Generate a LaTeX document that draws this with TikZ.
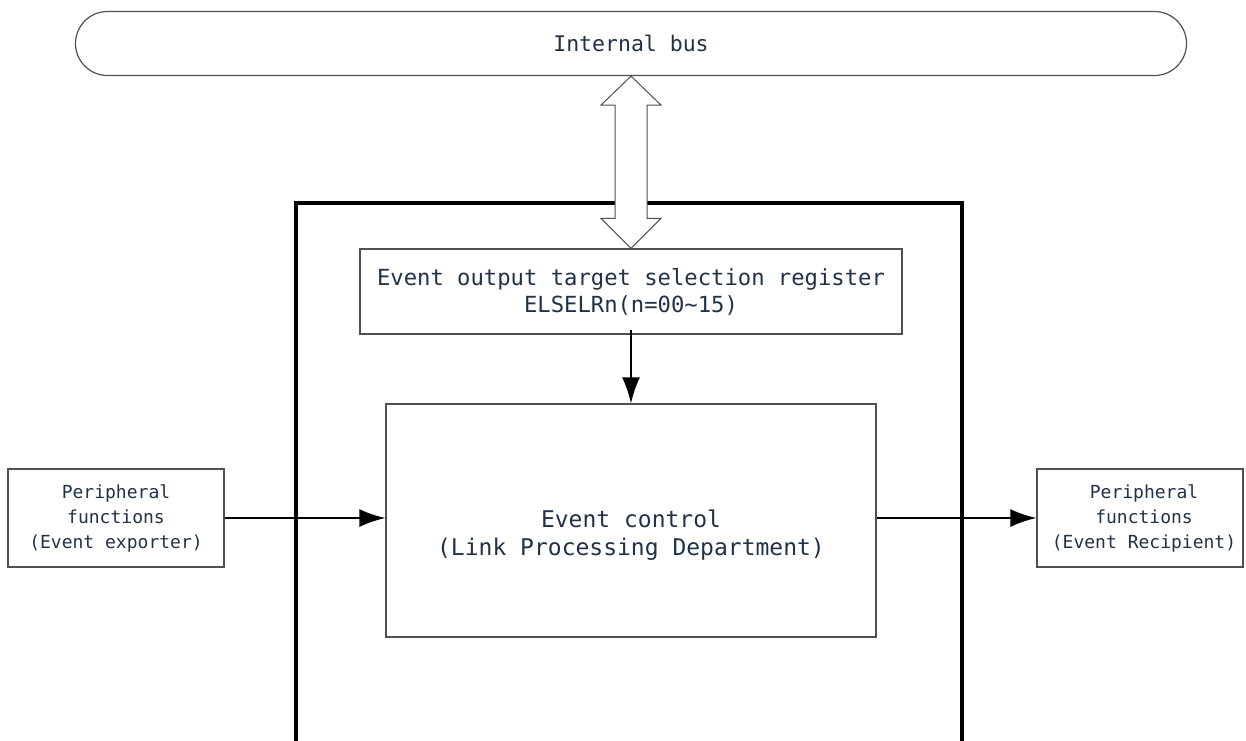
\documentclass[tikz,border=0pt]{standalone}
\usepackage{fontspec}
\setmainfont{DejaVu Sans Mono}
\usetikzlibrary{arrows.meta,calc}
\definecolor{txt}{RGB}{32,50,72}
\definecolor{edge}{RGB}{80,80,80}
\tikzset{
  box/.style={draw=edge,line width=1.2pt,rectangle,inner sep=0pt,text=txt,align=center},
  conn/.style={line width=2pt,-{Latex[length=26pt,width=18pt]}},
  wall/.style={line width=3.4pt,line cap=rect},
  txtnode/.style={text=txt,align=center,inner sep=0pt}
}
\begin{document}
\begin{tikzpicture}[x=1pt,y=-1pt]
\useasboundingbox (0,0) rectangle (1246,740);
% internal bus
\node[box,rounded corners=32pt,minimum width=1111pt,minimum height=64pt,
      font=\fontsize{21.5}{26}\selectfont] (bus) at (631,43.5) {Internal bus};
% outer block walls
\coordinate (wl) at (296,740);
\coordinate (wtl) at (296,203);
\coordinate (wtr) at (962,203);
\coordinate (wr) at (962,740);
\draw[wall] (wl) -- (wtl) -- (wtr) -- (wr);
% register box
\node[box,minimum width=542pt,minimum height=85pt] (reg) at (631,291.5) {};
\node[txtnode,font=\fontsize{22.2}{27}\selectfont] (regtxt) at (631,292)
      {Event output target selection register\\ELSELRn(n=00\textasciitilde15)};
% double arrow between bus and register
\draw[line width=1pt,draw=edge,fill=white]
  (bus.south) -- ($(bus.south)+(30,29)$) -- ($(bus.south)+(16,29)$)
  -- ($(reg.north)+(16,-30)$) -- ($(reg.north)+(30,-30)$) -- (reg.north)
  -- ($(reg.north)+(-30,-30)$) -- ($(reg.north)+(-16,-30)$)
  -- ($(bus.south)+(-16,29)$) -- ($(bus.south)+(-30,29)$) -- cycle;
% event control
\node[box,minimum width=490pt,minimum height=233pt] (ec) at (631,520.5) {};
\node[txtnode,font=\fontsize{23}{28}\selectfont] (ectxt) at (631,535)
  {Event control\\(Link Processing Department)};
% peripheral boxes
\node[box,minimum width=216pt,minimum height=98pt,
      font=\fontsize{18}{25}\selectfont] (lp) at (116,518)
  {Peripheral\\functions\\(Event exporter)};
\node[box,minimum width=206pt,minimum height=98pt] (rp) at (1140,518) {};
\node[txtnode,font=\fontsize{18}{25}\selectfont] (rptxt) at (1144,518)
  {Peripheral\\functions\\(Event Recipient)};
% connectors
\draw[conn] ($(reg.south)+(0,-5)$) -- (ec.north);
\draw[conn] (lp.east) -- (lp.east -| ec.west);
\draw[conn] (rp.west -| ec.east) -- (rp.west);
\end{tikzpicture}
\end{document}
